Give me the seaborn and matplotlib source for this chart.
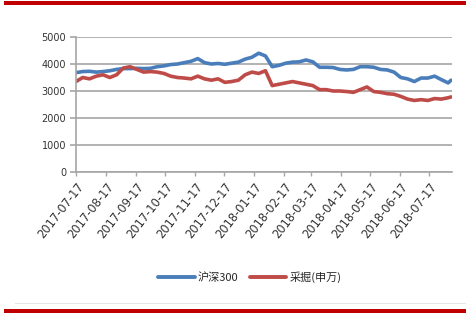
import matplotlib
matplotlib.use("Agg")
import matplotlib.pyplot as plt
import seaborn as sns
import pandas as pd
from matplotlib.lines import Line2D

dates = pd.date_range("2017-07-17", "2018-08-06", freq="7D").tolist() + [pd.Timestamp("2018-08-09")]
hs300 = [3680, 3720, 3730, 3700, 3720, 3750, 3800, 3830, 3830, 3840, 3830, 3840,
         3900, 3930, 3980, 4000, 4050, 4100, 4200, 4050, 4000, 4020, 3990, 4030,
         4070, 4180, 4250, 4400, 4300, 3900, 3950, 4030, 4070, 4080, 4150, 4080,
         3880, 3880, 3870, 3800, 3780, 3800, 3900, 3900, 3880, 3800, 3780, 3700,
         3500, 3450, 3350, 3480, 3480, 3550, 3420, 3300, 3400]
caijue = [3350, 3500, 3450, 3550, 3600, 3500, 3600, 3850, 3900, 3800, 3700, 3720,
          3700, 3650, 3550, 3500, 3480, 3450, 3550, 3450, 3400, 3450, 3320, 3350,
          3400, 3600, 3700, 3650, 3750, 3200, 3250, 3300, 3350, 3300, 3250, 3200,
          3050, 3050, 3000, 3000, 2980, 2950, 3050, 3150, 2980, 2950, 2900, 2880,
          2800, 2700, 2650, 2680, 2650, 2720, 2700, 2750, 2780]
tick_labels = ["2017-07-17", "2017-08-17", "2017-09-17", "2017-10-17", "2017-11-17",
               "2017-12-17", "2018-01-17", "2018-02-17", "2018-03-17", "2018-04-17",
               "2018-05-17", "2018-06-17", "2018-07-17"]
series_names = ["沪深300", "采掘(申万)"]
colors = ["#4a7ebb", "#be4b48"]

df = pd.DataFrame({"date": dates * 2,
                   "value": hs300 + caijue,
                   "series": [series_names[0]] * len(dates) + [series_names[1]] * len(dates)})

sns.set_theme(style="white")
plt.rcParams["font.family"] = ["Noto Sans CJK SC", "DejaVu Sans"]

fig = plt.figure(figsize=(4.66, 3.15), dpi=100)
ax = fig.add_axes([0.163, 0.454, 0.807, 0.4285])

sns.lineplot(data=df, x="date", y="value", hue="series",
             palette=colors, linewidth=2.6, ax=ax, legend=False)

ax.set_ylim(0, 5000)
ax.set_yticks([0, 1000, 2000, 3000, 4000, 5000])
ax.set_yticklabels(["0", "1000", "2000", "3000", "4000", "5000"], fontsize=7,
                   color="#333333", family="DejaVu Sans")
ax.set_xlim(pd.Timestamp("2017-07-17"), pd.Timestamp("2018-08-10"))
ax.set_xticks([pd.Timestamp(t) for t in tick_labels])
ax.set_xticklabels(tick_labels, rotation=52, ha="right", rotation_mode="anchor",
                   fontsize=8.3, color="#333333", family="DejaVu Sans")
ax.set_xlabel("")
ax.set_ylabel("")
ax.grid(axis="y", color="#a6a6a6", linewidth=1.2)
ax.set_axisbelow(True)
for s in ["top", "right"]:
    ax.spines[s].set_visible(False)
for s in ["left", "bottom"]:
    ax.spines[s].set_color("#a6a6a6")
    ax.spines[s].set_linewidth(1.2)
ax.tick_params(axis="x", bottom=True, length=3, width=1, color="#a6a6a6", pad=3)
ax.tick_params(axis="y", left=True, length=4, width=1.2, color="#a6a6a6", pad=3)

handles = [Line2D([0], [0], color=c, lw=2.8) for c in colors]
fig.legend(handles, series_names, loc="center", bbox_to_anchor=(0.536, 0.121),
           ncol=2, frameon=False, fontsize=8, handlelength=3.3,
           handletextpad=0.3, columnspacing=1.0)

fig.add_artist(plt.Rectangle((4 / 466, 1 - 5 / 315), 1, 4 / 315, transform=fig.transFigure,
                             color="#c00000", lw=0))
fig.add_artist(plt.Rectangle((4 / 466, 1 - 313 / 315), 1, 4 / 315, transform=fig.transFigure,
                             color="#c00000", lw=0))
fig.add_artist(plt.Rectangle((15 / 466, 1 - 304 / 315), 1, 1.5 / 315, transform=fig.transFigure,
                             color="#e6e6e6", lw=0))

fig.savefig("out.png", dpi=100)
